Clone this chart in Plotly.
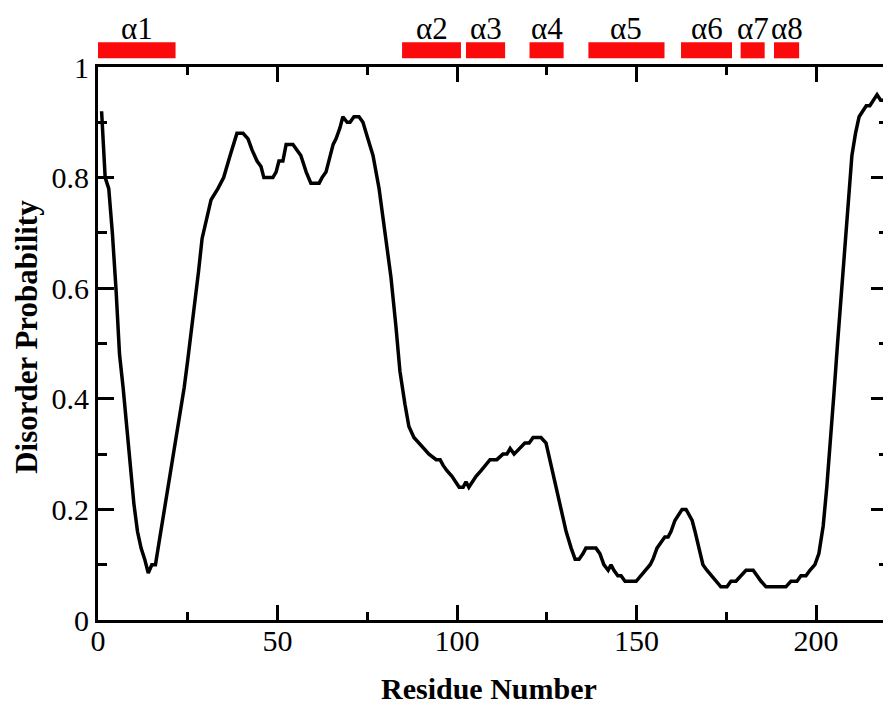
import plotly.graph_objects as go

# Disorder probability profile (residue, probability)
residues = [1, 2, 3, 4, 5, 6, 7, 8, 9, 10, 11, 12, 13, 14, 15, 16, 17, 18, 19, 20,
            21, 22, 23, 24, 25, 26, 27, 28, 29, 30, 31.5, 33.4, 35, 36.8, 38.7, 40.4,
            41.8, 42.9, 44.3, 45.4, 46.2, 48.7, 49.6, 50.4, 51.5, 52.4, 54.3, 55.4,
            56.5, 58, 59.3, 61.6, 62.4, 63.5, 64.3, 65.5, 66.3, 67.4, 68.2, 69.4,
            70.2, 71.3, 72.7, 73.8, 75.2, 76.6, 78.3, 80, 81.6, 83, 84.1, 85.5, 86.6,
            88, 89.4, 90.8, 92.2, 94.2, 95.3, 96.1, 97.2, 98.6, 99.7, 100.6, 101.7,
            102.5, 103.3, 104.2, 105.3, 106.7, 108.1, 109.2, 111.1, 112.8, 113.9,
            114.8, 115.9, 117.3, 118.9, 120.1, 121.2, 123.4, 124.8, 126.2, 127.6,
            129, 130.4, 131.8, 132.9, 134, 135.1, 135.9, 138.7, 139.8, 140.9, 142.1,
            142.9, 143.7, 144.8, 145.7, 146.8, 149.9, 151.3, 152.6, 153.8, 154.6,
            155.7, 156.8, 157.9, 158.8, 159.6, 160.7, 161.6, 162.7, 163.8, 164.6,
            165.5, 166.3, 167.4, 168.5, 169.6, 170.8, 172.1, 173.5, 175.2, 176.3,
            177.7, 179.1, 180.5, 182.5, 183.6, 184.7, 186.1, 191.6, 193, 194.7,
            195.8, 197.2, 198.3, 199.7, 200.8, 202, 203, 204, 205, 206, 207, 208,
            209, 210, 211, 212, 213, 214, 215, 216, 217, 218, 219]
disorder = [0.92, 0.80, 0.78, 0.70, 0.60, 0.48, 0.42, 0.35, 0.28, 0.21, 0.16, 0.13,
            0.11, 0.085, 0.10, 0.10, 0.14, 0.18, 0.22, 0.26, 0.30, 0.34, 0.38, 0.42,
            0.47, 0.52, 0.58, 0.63, 0.69, 0.72, 0.76, 0.78, 0.80, 0.84, 0.88, 0.88,
            0.87, 0.85, 0.83, 0.82, 0.80, 0.80, 0.81, 0.83, 0.83, 0.86, 0.86, 0.85,
            0.84, 0.81, 0.79, 0.79, 0.80, 0.81, 0.83, 0.86, 0.87, 0.89, 0.91, 0.90,
            0.90, 0.91, 0.91, 0.90, 0.87, 0.84, 0.78, 0.70, 0.62, 0.53, 0.45, 0.39,
            0.35, 0.33, 0.32, 0.31, 0.30, 0.29, 0.29, 0.28, 0.27, 0.26, 0.25, 0.24,
            0.24, 0.25, 0.24, 0.25, 0.26, 0.27, 0.28, 0.29, 0.29, 0.30, 0.30, 0.31,
            0.30, 0.31, 0.32, 0.32, 0.33, 0.33, 0.32, 0.28, 0.24, 0.20, 0.16, 0.13,
            0.11, 0.11, 0.12, 0.13, 0.13, 0.12, 0.10, 0.09, 0.10, 0.09, 0.08, 0.08,
            0.07, 0.07, 0.08, 0.09, 0.10, 0.11, 0.13, 0.14, 0.15, 0.15, 0.16, 0.18,
            0.19, 0.20, 0.20, 0.19, 0.18, 0.16, 0.13, 0.10, 0.09, 0.08, 0.07, 0.06,
            0.06, 0.07, 0.07, 0.08, 0.09, 0.09, 0.08, 0.07, 0.06, 0.06, 0.07, 0.07,
            0.08, 0.08, 0.09, 0.10, 0.12, 0.17, 0.24, 0.32, 0.41, 0.50, 0.59, 0.68,
            0.77, 0.84, 0.88, 0.91, 0.92, 0.93, 0.93, 0.94, 0.95, 0.94, 0.94]

# Helix annotations (start residue, end residue, label)
helix_labels = ["α1", "α2", "α3", "α4", "α5", "α6", "α7", "α8"]
helix_start = [0, 84.7, 102.5, 120.2, 136.6, 162.4, 179.0, 188.3]
helix_end = [21.6, 101.1, 113.4, 129.7, 157.8, 176.6, 185.7, 195.3]

x_ticks = [0, 50, 100, 150, 200]
y_ticks = [0, 0.2, 0.4, 0.6, 0.8, 1]

FONT = "Liberation Serif, Times New Roman, serif"
TICKFONT = dict(family=FONT, size=30, color="black")

fig = go.Figure()
fig.add_trace(go.Scatter(x=residues, y=disorder, mode="lines",
                         line=dict(color="black", width=3.5), showlegend=False))
# dummy trace for right-side ticks
fig.add_trace(go.Scatter(x=[None], y=[None], yaxis="y2", showlegend=False))

for s, e, lab in zip(helix_start, helix_end, helix_labels):
    fig.add_shape(type="rect", xref="x", yref="paper", x0=s, x1=e,
                  y0=1.0157, y1=1.0447, fillcolor="#fa0a0a", line=dict(width=0))
    fig.add_annotation(x=(s + e) / 2, xref="x", y=1.0705, yref="paper",
                       text=lab, showarrow=False, xanchor="center", yanchor="middle",
                       font=dict(family=FONT, size=31, color="black"))

fig.add_annotation(x=0.498, y=(619.5 - 688) / 553, xref="paper", yref="paper",
                   text="<b>Residue Number</b>", showarrow=False,
                   xanchor="center", yanchor="middle",
                   font=dict(family=FONT, size=30, color="black"))
fig.add_annotation(x=(27 - 98) / 785, y=0.512, xref="paper", yref="paper",
                   text="<b>Disorder Probability</b>", showarrow=False, textangle=-90,
                   xanchor="center", yanchor="middle",
                   font=dict(family=FONT, size=31, color="black"))

fig.update_layout(
    width=883, height=706,
    margin=dict(l=98, r=0, t=67, b=86, pad=0),
    paper_bgcolor="white", plot_bgcolor="white",
    font=dict(family=FONT, size=30, color="black"),
    xaxis=dict(range=[0, 218.66], tickvals=x_ticks, ticks="inside", ticklen=15,
               tickwidth=3, tickcolor="black", showline=True, linewidth=3,
               linecolor="black", mirror="ticks", showgrid=False, zeroline=False,
               ticklabelstandoff=-8, tickfont=TICKFONT,
               minor=dict(dtick=25, tick0=0, ticks="inside", ticklen=8,
                          tickwidth=3, tickcolor="black", showgrid=False)),
    yaxis=dict(range=[0, 1], tickvals=y_ticks, ticks="inside", ticklen=16,
               tickwidth=3, tickcolor="black", showline=True, linewidth=3,
               linecolor="black", mirror=False, showgrid=False, zeroline=False,
               ticklabelstandoff=0, tickfont=TICKFONT,
               minor=dict(dtick=0.1, tick0=0, ticks="inside", ticklen=9,
                          tickwidth=3, tickcolor="black", showgrid=False)),
    yaxis2=dict(range=[0, 1], overlaying="y", side="right", tickvals=y_ticks,
                ticks="inside", ticklen=12, tickwidth=3, tickcolor="black",
                showline=False, showgrid=False, zeroline=False,
                showticklabels=False,
                minor=dict(dtick=0.1, tick0=0, ticks="inside", ticklen=4,
                           tickwidth=3, tickcolor="black", showgrid=False)),
)

fig.write_html("out.html")
